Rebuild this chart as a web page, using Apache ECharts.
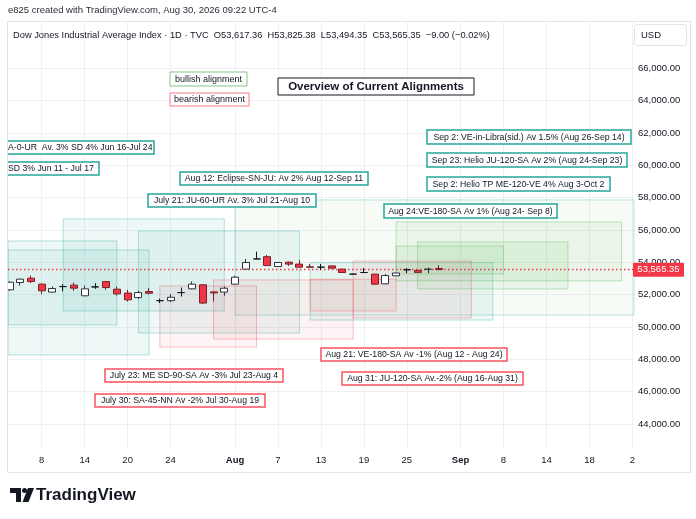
<!DOCTYPE html>
<html><head><meta charset="utf-8">
<script src="https://cdn.jsdelivr.net/npm/echarts@6/dist/echarts.min.js"></script>
<style>html,body{margin:0;padding:0;background:#fff}#c{width:696px;height:519px}</style>
</head><body><div id="c"></div><script>
// ---------- data ----------
const DATES = [
 '2026-07-02','2026-07-06','2026-07-07','2026-07-08','2026-07-09','2026-07-10','2026-07-13','2026-07-14','2026-07-15','2026-07-16','2026-07-17',
 '2026-07-20','2026-07-21','2026-07-22','2026-07-23','2026-07-24','2026-07-27','2026-07-28','2026-07-29','2026-07-30','2026-07-31',
 '2026-08-03','2026-08-04','2026-08-05','2026-08-06','2026-08-07','2026-08-10','2026-08-11','2026-08-12','2026-08-13','2026-08-14',
 '2026-08-17','2026-08-18','2026-08-19','2026-08-20','2026-08-21','2026-08-24','2026-08-25','2026-08-26','2026-08-27','2026-08-28',
 '2026-08-31','2026-09-01','2026-09-02','2026-09-03','2026-09-04','2026-09-08','2026-09-09','2026-09-10','2026-09-11','2026-09-14',
 '2026-09-15','2026-09-16','2026-09-17','2026-09-18','2026-09-21','2026-09-22','2026-09-23','2026-09-24'];
const OPEN  = [52300,52750,53020,52650,52160,52500,52590,51930,52480,52810,52340,52100,51820,52190,51630,51630,52130,52360,52610,52170,52160,
               52650,53580,54210,54350,53740,54010,53890,53720,53700,53780,53580,53270,53370,53270,52670,53170,53540,53500,53570,53617.36];
const CLOSE = [52770,52960,52810,52240,52380,52500,52405,52360,52480,52440,52050,51680,52130,52090,51630,51840,52130,52650,51480,52110,52400,
               53080,53990,54210,53800,53990,53890,53700,53700,53700,53640,53370,53270,53370,52650,53180,53340,53540,53380,53574.35,53565.35];
const LOW   = [52250,52560,52710,52030,52140,52200,52240,51910,52360,52300,51950,51580,51730,52030,51480,51540,51880,52340,51440,51580,51930,
               52640,53570,54200,53790,53730,53780,53690,53690,53530,53620,53350,53250,53360,52630,52660,53150,53330,53360,53330,53494.35];
const HIGH  = [52800,52990,53180,52700,52500,52650,52750,52560,52710,52840,52500,52300,52240,52400,51750,52030,52440,52810,52640,52200,52500,
               53170,54210,54660,54460,54010,54050,54150,53900,53900,53800,53600,53290,53640,53290,53280,53360,53640,53520,53680,53825.38];
const TICK_DATES  = ['2026-07-08','2026-07-14','2026-07-20','2026-07-24','2026-08-03','2026-08-07','2026-08-13','2026-08-19','2026-08-25','2026-09-01','2026-09-08','2026-09-14','2026-09-18','2026-09-24'];
const TICK_LABELS = ['8','14','20','24','Aug','7','13','19','25','Sep','8','14','18','2'];
const PRICE_TICKS = [44000,46000,48000,50000,52000,54000,56000,58000,60000,62000,64000,66000];

// alignment zones
const ZONE_START  = ['2026-06-11','2026-06-16','2026-07-10','2026-07-21','2026-08-03','2026-08-12','2026-08-24','2026-08-24','2026-08-26','2026-07-23','2026-07-30','2026-08-12','2026-08-18'];
const ZONE_END    = ['2026-07-17','2026-07-22','2026-07-31','2026-08-11','2026-10-02','2026-09-04','2026-09-23','2026-09-08','2026-09-16','2026-08-05','2026-08-18','2026-08-24','2026-09-02'];
const ZONE_TOP    = [55320,54760,56680,55940,57860,53980,56500,55010,55260,52540,52910,52950,54080];
const ZONE_BOTTOM = [50130,48270,50990,49630,50740,50430,52850,53280,52350,48760,49260,50990,50560];
const ZONE_KIND   = ['teal','teal','teal','teal','lime','teal','green','green','green','red','red','red','red'];

// annotation texts
const NOTE_TEXT = ['A-0-UR  Av. 3% SD 4% Jun 16-Jul 24','SD 3% Jun 11 - Jul 17','Aug 12: Eclipse-SN-JU: Av 2% Aug 12-Sep 11','July 21: JU-60-UR Av. 3% Jul 21-Aug 10',
  'Aug 24:VE-180-SA Av 1% (Aug 24- Sep 8)','Sep 2: VE-in-Libra(sid.) Av 1.5% (Aug 26-Sep 14)','Sep 23: Helio JU-120-SA Av 2% (Aug 24-Sep 23)','Sep 2: Helio TP ME-120-VE 4% Aug 3-Oct 2',
  'Aug 21: VE-180-SA Av -1% (Aug 12 - Aug 24)','July 23: ME SD-90-SA Av -3% Jul 23-Aug 4','Aug 31: JU-120-SA Av.-2% (Aug 16-Aug 31)','July 30: SA-45-NN Av -2% Jul 30-Aug 19',
  'bullish alignment','bearish alignment','Overview of Current Alignments'];
const NOTE_KIND = ['bull','bull','bull','bull','bull','bull','bull','bull','bear','bear','bear','bear','legBull','legBear','title'];

const SYMBOL_LINE = ['Dow Jones Industrial Average Index · 1D · TVC','O53,617.36','H53,825.38','L53,494.35','C53,565.35','−9.00 (−0.02%)'];
const CREATED = 'e825 created with TradingView.com, Aug 30, 2026 09:22 UTC-4';

// ---------- layout ----------
const X_MIN = -0.14, X_MAX = 58.15;
const Y_MIN = 42456, Y_MAX = 68863;
const FONT = 'Liberation Sans, Arial, sans-serif';
const NOTE_BOX = [ // x, y, w, h, align
  [-10,141,164,13,'left'],[-10,162,109,13,'left'],[180,172,188,13,'center'],[148,194,168,13,'center'],
  [384,204,173,14,'center'],[427,130,204,14,'center'],[427,153,200,14,'center'],[427,177,183,14,'center'],
  [321,348,186,13,'center'],[105,369,178,13,'center'],[342,372,181,13,'center'],[95,394,170,13,'center'],
  [170,72,77,14,'center'],[170,93,79,13,'center'],[278,78,196,17,'center']];
const NOTE_STYLE = {
  bull:{stroke:'#26a69a', lw:1.5, fs:8.7, fw:'normal'},
  bear:{stroke:'#f7525f', lw:1.5, fs:8.7, fw:'normal'},
  legBull:{stroke:'#81c784', lw:1, fs:9, fw:'normal'},
  legBear:{stroke:'#f77c80', lw:1, fs:9, fw:'normal'},
  title:{stroke:'#131722', lw:1, fs:11.5, fw:'bold'}
};
const ZONE_STYLE = {
  teal:{color:'rgba(38,166,154,0.08)', borderColor:'rgba(38,166,154,0.33)'},
  green:{color:'rgba(76,175,80,0.08)', borderColor:'rgba(76,175,80,0.33)'},
  lime:{color:'rgba(76,175,80,0.05)', borderColor:'rgba(38,166,154,0.3)'},
  red:{color:'rgba(242,54,69,0.06)', borderColor:'rgba(242,54,69,0.3)'}
};

function dateIdx(d){
  if (d < DATES[0]) return X_MIN;
  if (d > DATES[DATES.length-1]) return X_MAX;
  return DATES.indexOf(d);
}
const TICK_IDX = TICK_DATES.map(dateIdx);
const tickMap = {};
TICK_IDX.forEach((v,i)=>{ tickMap[v] = TICK_LABELS[i]; });
const LAST = CLOSE[CLOSE.length-1];

const candles = OPEN.map((o,i)=>[i, o, CLOSE[i], LOW[i], HIGH[i]]);
const zones = ZONE_START.map((s,i)=>[
  {xAxis: dateIdx(s), yAxis: ZONE_TOP[i], itemStyle: Object.assign({borderWidth:1}, ZONE_STYLE[ZONE_KIND[i]])},
  {xAxis: dateIdx(ZONE_END[i]), yAxis: ZONE_BOTTOM[i]}
]);

const chart = echarts.init(document.getElementById('c'), null, {renderer:'canvas', width:696, height:519});
chart.setOption({
  animation:false,
  backgroundColor:'#ffffff',
  textStyle:{fontFamily:FONT},
  grid:{left:8, top:22, width:626, height:427},
  xAxis:{type:'value', min:X_MIN, max:X_MAX,
    axisLine:{show:false},
    axisTick:{show:false, customValues:TICK_IDX},
    splitLine:{show:true, lineStyle:{color:'#eef0f4', width:1}},
    axisLabel:{customValues:TICK_IDX, margin:6, fontSize:9.5, color:'#131722', fontFamily:FONT,
      formatter:v=>{ const t = tickMap[v]; return (t==='Aug'||t==='Sep') ? '{b|'+t+'}' : t; },
      rich:{b:{fontWeight:'bold', fontSize:9.5, color:'#131722', fontFamily:FONT}}}
  },
  yAxis:{type:'value', position:'right', min:Y_MIN, max:Y_MAX, scale:true,
    axisLine:{show:false},
    axisTick:{show:false, customValues:PRICE_TICKS},
    splitLine:{show:true, lineStyle:{color:'#eef0f4', width:1}},
    axisLabel:{customValues:PRICE_TICKS, margin:4, fontSize:9.5, color:'#131722', fontFamily:FONT,
      formatter:v=>v.toLocaleString('en-US',{minimumFractionDigits:2, maximumFractionDigits:2})}
  },
  series:[{
    type:'candlestick', data:candles, barWidth:7.5, z:3,
    itemStyle:{color:'#ffffff', color0:'#f23645', borderColor:'#2f323c', borderColor0:'#7a1f27', borderColorDoji:'#131722', borderWidth:1},
    markArea:{silent:true, z:1, data:zones},
    markLine:{silent:true, symbol:['none','none'], label:{show:false}, z:2,
      itemStyle:{color:'#f23645'},
      lineStyle:{color:'#f23645', type:[1.5,2.5], width:1.3, opacity:1}, data:[{yAxis:LAST}]}
  }]
});

// ---------- graphics ----------
const g = [];
NOTE_TEXT.forEach((t,i)=>{
  const [x,y,w,h,al] = NOTE_BOX[i];
  const st = NOTE_STYLE[NOTE_KIND[i]];
  g.push({type:'rect', z:100, shape:{x:x, y:y, width:w, height:h}, style:{fill:'#ffffff', stroke:st.stroke, lineWidth:st.lw}});
  g.push({type:'text', z:101, x: al==='left' ? 8 : x + w/2, y: y + h/2 + 0.5,
    style:{text:t, fill:'#131722', font: st.fw + ' ' + st.fs + 'px ' + FONT, textAlign: al, textVerticalAlign:'middle'}});
});
// left cover and panel border
g.push({type:'rect', z:150, shape:{x:0, y:20, width:7.5, height:460}, style:{fill:'#ffffff'}});
g.push({type:'rect', z:200, shape:{x:7.5, y:21.5, width:683, height:451}, style:{fill:'none', stroke:'#e0e3eb', lineWidth:1}});
// header texts
g.push({type:'text', z:101, x:8, y:10, style:{text:CREATED, fill:'#2a2e39', font:'9.5px '+FONT, textVerticalAlign:'middle'}});
g.push({type:'text', z:101, x:13, y:35, style:{text:SYMBOL_LINE[0] + '  ' + SYMBOL_LINE.slice(1,5).join('  ') + '  ' + SYMBOL_LINE[5], fill:'#131722', font:'9.3px '+FONT, textVerticalAlign:'middle'}});
// USD box
g.push({type:'rect', z:101, shape:{x:634.5, y:24.5, width:52, height:21, r:3}, style:{fill:'#ffffff', stroke:'#e0e3eb', lineWidth:1}});
g.push({type:'text', z:102, x:641, y:35.5, style:{text:'USD', fill:'#131722', font:'9.5px '+FONT, textVerticalAlign:'middle'}});
// price label
const py = chart.convertToPixel({yAxisIndex:0}, LAST);
g.push({type:'rect', z:120, shape:{x:633, y:py-6.5, width:51, height:14, r:1}, style:{fill:'#f23645'}});
g.push({type:'text', z:121, x:658.5, y:py+0.5, style:{text:LAST.toLocaleString('en-US',{minimumFractionDigits:2}), fill:'#ffffff', font:'9.5px '+FONT, textAlign:'center', textVerticalAlign:'middle'}});
// TradingView logo
g.push({type:'polygon', z:101, shape:{points:[[10,488],[21,488],[21,502],[16,502],[16,493],[10,493]]}, style:{fill:'#131722'}});
g.push({type:'circle', z:101, shape:{cx:24.5, cy:490.5, r:2.5}, style:{fill:'#131722'}});
g.push({type:'polygon', z:101, shape:{points:[[28,488],[34,488],[28.5,502],[22.5,502]]}, style:{fill:'#131722'}});
g.push({type:'text', z:101, x:36, y:495, style:{text:'TradingView', fill:'#131722', font:'bold 17px '+FONT, textVerticalAlign:'middle'}});
chart.setOption({graphic:{elements:g}});
</script></body></html>
